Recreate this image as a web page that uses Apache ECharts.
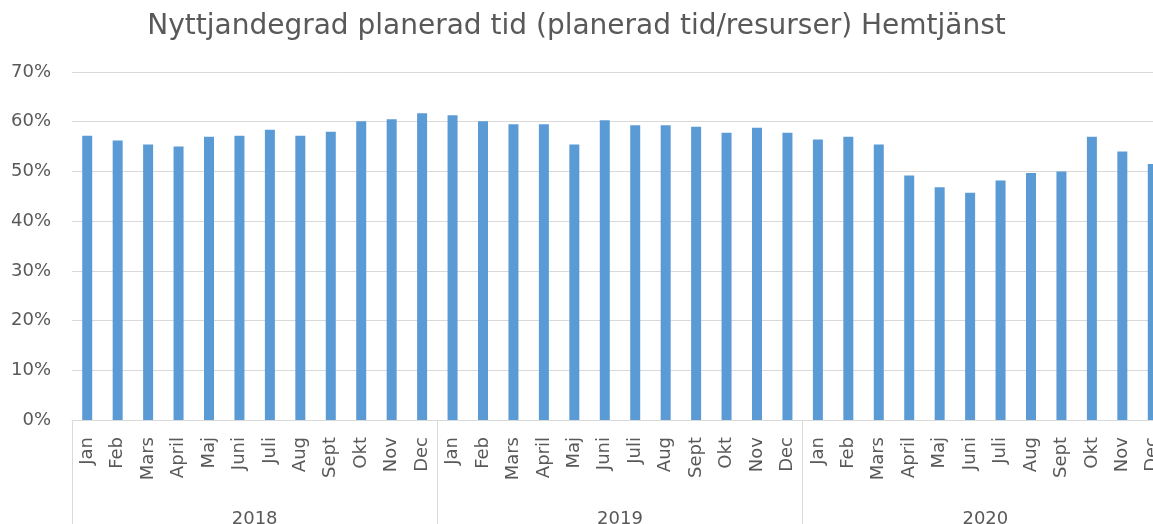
<!DOCTYPE html>
<html>
<head>
<meta charset="utf-8">
<script src="https://cdn.jsdelivr.net/npm/echarts@6/dist/echarts.min.js"></script>
<style>html,body{margin:0;padding:0;background:#fff}#c{width:1153px;height:524px}</style>
</head>
<body>
<div id="c"></div>
<script>
var months = ['Jan','Feb','Mars','April','Maj','Juni','Juli','Aug','Sept','Okt','Nov','Dec'];
var years = ['2018','2019','2020'];
var values2018 = [57.2, 56.2, 55.4, 55.0, 57.0, 57.2, 58.4, 57.2, 58.0, 60.1, 60.5, 61.7];
var values2019 = [61.3, 60.1, 59.5, 59.5, 55.4, 60.3, 59.3, 59.3, 59.0, 57.8, 58.8, 57.8];
var values2020 = [56.4, 57.0, 55.4, 49.2, 46.8, 45.7, 48.2, 49.7, 50.0, 57.0, 54.0, 51.5];
var yTicks = [0, 10, 20, 30, 40, 50, 60, 70];
var titleText = 'Nyttjandegrad planerad tid (planerad tid/resurser) Hemtjänst';

var categories = [];
years.forEach(function(y){ months.forEach(function(m){ categories.push(m + ' ' + y); }); });
var values = values2018.concat(values2019, values2020);

var FONT = 'DejaVu Sans';
var TXT = '#595959';
var chart = echarts.init(document.getElementById('c'), null, {renderer:'canvas'});
chart.setOption({
  animation: false,
  title: {
    text: titleText,
    left: 'center', top: 8,
    textStyle: {fontFamily: FONT, fontSize: 28, fontWeight: 'normal', color: TXT}
  },
  grid: {left: 72, width: 1096, top: 72, bottom: 104, containLabel: false, outerBoundsMode: 'none'},
  xAxis: [{
    type: 'category',
    data: categories,
    position: 'bottom',
    axisLine: {show: true, lineStyle: {color: '#d9d9d9', width: 1}},
    axisTick: {show: false},
    axisLabel: {
      interval: 0, rotate: 90, margin: 17,
      fontFamily: FONT, fontSize: 18, color: TXT,
      formatter: function(v){ return v.split(' ')[0]; }
    }
  }, {
    type: 'category',
    data: years,
    position: 'bottom',
    axisLine: {show: false},
    axisTick: {show: true, interval: 0, length: 110, lineStyle: {color: '#d9d9d9', width: 1}},
    axisLabel: {interval: 0, margin: 90, fontFamily: FONT, fontSize: 18, color: TXT}
  }],
  yAxis: {
    type: 'value',
    min: yTicks[0], max: yTicks[yTicks.length-1], interval: 10,
    axisLine: {show: false}, axisTick: {show: false},
    axisLabel: {margin: 21, fontFamily: FONT, fontSize: 18, color: TXT, formatter: '{value}%'},
    splitLine: {lineStyle: {color: '#d9d9d9', width: 1}}
  },
  series: [{
    type: 'bar',
    xAxisIndex: 0,
    data: values,
    barWidth: 10,
    itemStyle: {color: '#5B9BD5'}
  }]
});
</script>
</body>
</html>
